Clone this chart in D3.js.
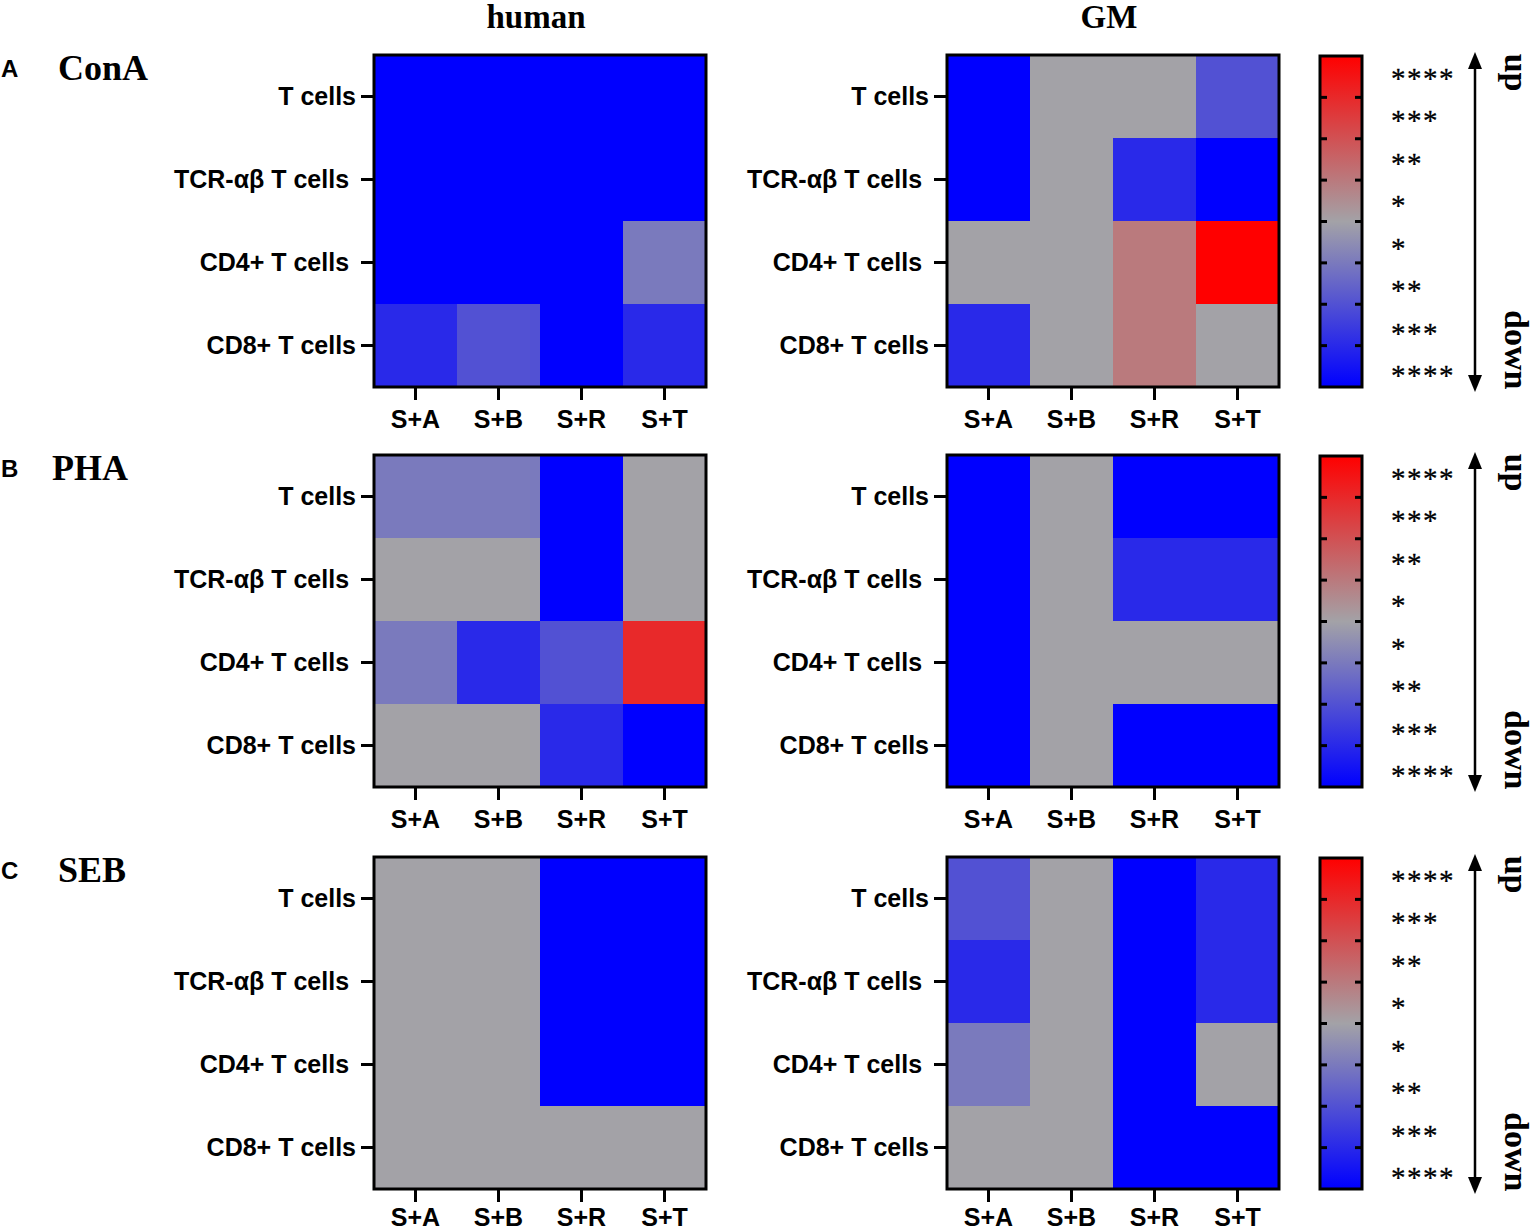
<!DOCTYPE html>
<html>
<head>
<meta charset="utf-8">
<script src="https://cdn.jsdelivr.net/npm/d3@7"></script>
<style>
  html, body { margin: 0; padding: 0; background: #fff; }
  svg { display: block; }
  .tick text { white-space: pre; }
</style>
</head>
<body>
<script>
// ---------------- DATA ----------------
const stimuli = ["ConA", "PHA", "SEB"];
const panelLetters = ["A", "B", "C"];
const species = ["human", "GM"];
const cellTypes = ["T cells", "TCR-αβ T cells ", "CD4+ T cells ", "CD8+ T cells"];
const combos = ["S+A", "S+B", "S+R", "S+T"];
// signed significance level: -4 (**** down) ... 0 (ns) ... +4 (**** up)
// rows = cellTypes, columns = combos
const conaHuman = [[-4, -4, -4, -4], [-4, -4, -4, -4], [-4, -4, -4, -1], [-3, -2, -4, -3]];
const conaGM    = [[-4, 0, 0, -2], [-4, 0, -3, -4], [0, 0, 1, 4], [-3, 0, 1, 0]];
const phaHuman  = [[-1, -1, -4, 0], [0, 0, -4, 0], [-1, -3, -2, 3], [0, 0, -3, -4]];
const phaGM     = [[-4, 0, -4, -4], [-4, 0, -3, -3], [-4, 0, 0, 0], [-4, 0, -4, -4]];
const sebHuman  = [[0, 0, -4, -4], [0, 0, -4, -4], [0, 0, -4, -4], [0, 0, 0, 0]];
const sebGM     = [[-2, 0, -4, -3], [-3, 0, -4, -3], [-1, 0, -4, 0], [0, 0, -4, -4]];
const starLabels = ["****", "***", "**", "*", "*", "**", "***", "****"];
const directionLabels = ["up", "down"];

const matrices = [[conaHuman, conaGM], [phaHuman, phaGM], [sebHuman, sebGM]];

// ---------------- LAYOUT ----------------
const W = 1535, H = 1231;
const svg = d3.select("body").append("svg").attr("width", W).attr("height", H);
const rowTops = [55, 455, 857];
const xPads = [10, 10, 6];
const colLefts = [374, 947];
const size = 332;
const cbLeft = 1320, cbWidth = 42;

const color = d3.scaleLinear().domain([-4, 0, 4]).range(["#0000ff", "#a3a2a7", "#ff0000"]);

const sansBold = "'Liberation Sans', Arial, sans-serif";
const serif = "'Liberation Serif', 'Times New Roman', serif";

// gradient
const defs = svg.append("defs");
const grad = defs.append("linearGradient").attr("id", "cbgrad")
  .attr("x1", 0).attr("y1", 1).attr("x2", 0).attr("y2", 0);
[-4, 0, 4].forEach(v => grad.append("stop")
  .attr("offset", (v + 4) / 8).attr("stop-color", color(v)));

// column headers
species.forEach((s, j) => {
  svg.append("text")
    .attr("x", colLefts[j] + size / 2 - 4).attr("y", 28)
    .attr("text-anchor", "middle")
    .attr("font-family", serif).attr("font-weight", "bold")
    .attr("font-size", 33)
    .text(s);
});

stimuli.forEach((stim, i) => {
  const top = rowTops[i];
  // panel letter and stimulus
  svg.append("text").attr("x", 1).attr("y", top + 22)
    .attr("font-family", sansBold).attr("font-weight", "bold").attr("font-size", 24)
    .text(panelLetters[i]);
  svg.append("text").attr("x", i === 1 ? 52 : 58).attr("y", top + 25)
    .attr("font-family", serif).attr("font-weight", "bold").attr("font-size", 36)
    .text(stim);

  species.forEach((sp, j) => {
    const left = colLefts[j];
    const g = svg.append("g").attr("transform", `translate(${left},${top})`);
    const x = d3.scaleBand().domain(combos).range([0, size]);
    const y = d3.scaleBand().domain(cellTypes).range([0, size]);
    const mat = matrices[i][j];
    const cells = [];
    cellTypes.forEach((ct, r) => combos.forEach((cb, c) =>
      cells.push({ ct, cb, v: mat[r][c] })));
    g.selectAll("rect.cell").data(cells).enter().append("rect")
      .attr("class", "cell")
      .attr("x", d => x(d.cb)).attr("y", d => y(d.ct))
      .attr("width", x.bandwidth() + 0.5).attr("height", y.bandwidth() + 0.5)
      .attr("fill", d => color(d.v));
    g.append("rect").attr("x", 0).attr("y", 0).attr("width", size).attr("height", size)
      .attr("fill", "none").attr("stroke", "#000").attr("stroke-width", 3);

    const xa = g.append("g").attr("transform", `translate(0,${size})`)
      .call(d3.axisBottom(x).tickSize(13).tickPadding(xPads[i]));
    const ya = g.append("g")
      .call(d3.axisLeft(y).tickSize(13).tickPadding(5));
    [xa, ya].forEach(a => {
      a.select(".domain").remove();
      a.selectAll(".tick line").attr("stroke", "#000").attr("stroke-width", 3);
      a.selectAll(".tick text").attr("fill", "#000")
        .attr("font-family", sansBold).attr("font-weight", "bold").attr("font-size", 25);
    });
  });

  // colorbar
  const cb = svg.append("g").attr("transform", `translate(${cbLeft},${top + 1})`);
  const cy = d3.scaleLinear().domain([4, -4]).range([0, size - 1]);
  cb.append("rect").attr("x", 0).attr("y", 0).attr("width", cbWidth).attr("height", size - 1)
    .attr("fill", "url(#cbgrad)").attr("stroke", "#000").attr("stroke-width", 3);
  d3.range(-3, 4).forEach(v => {
    cb.append("line").attr("x1", 0).attr("x2", 7).attr("y1", cy(v)).attr("y2", cy(v))
      .attr("stroke", "#000").attr("stroke-width", 3);
    cb.append("line").attr("x1", cbWidth - 7).attr("x2", cbWidth).attr("y1", cy(v)).attr("y2", cy(v))
      .attr("stroke", "#000").attr("stroke-width", 3);
  });
  const labelY = d3.scaleLinear().domain([0, starLabels.length - 1]).range([cy(3.6), cy(-3.6)]);
  starLabels.forEach((s, k) => {
    cb.append("text").attr("x", 71).attr("y", labelY(k) + 15)
      .attr("font-family", serif).attr("font-size", 29).attr("letter-spacing", 1.5)
      .attr("stroke", "#000").attr("stroke-width", 0.3)
      .text(s);
  });
  // double-headed arrow
  const ax = 155, ay0 = cy(4) - 4, ay1 = cy(-4) + 5;
  cb.append("line").attr("x1", ax).attr("x2", ax)
    .attr("y1", ay0 + 10).attr("y2", ay1 - 10)
    .attr("stroke", "#000").attr("stroke-width", 2.5);
  cb.append("path").attr("d", `M${ax},${ay0} L${ax - 7},${ay0 + 17} L${ax + 7},${ay0 + 17} Z`).attr("fill", "#000");
  cb.append("path").attr("d", `M${ax},${ay1} L${ax - 7},${ay1 - 17} L${ax + 7},${ay1 - 17} Z`).attr("fill", "#000");
  cb.append("text").attr("transform", `translate(185,${cy(3.6)}) rotate(90)`)
    .attr("text-anchor", "middle")
    .attr("font-family", serif).attr("font-weight", "bold").attr("font-size", 34)
    .text(directionLabels[0]);
  cb.append("text").attr("transform", `translate(185,${cy(-3.1)}) rotate(90)`)
    .attr("text-anchor", "middle")
    .attr("font-family", serif).attr("font-weight", "bold").attr("font-size", 34)
    .text(directionLabels[1]);
});
</script>
</body>
</html>
